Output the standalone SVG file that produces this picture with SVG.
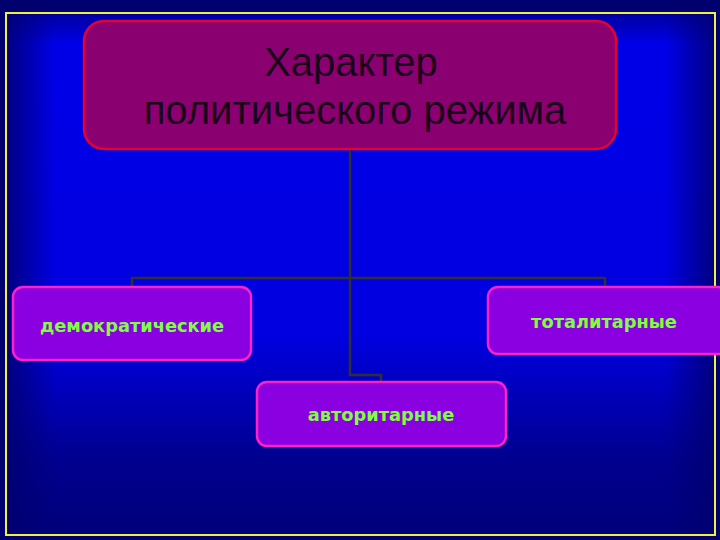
<svg xmlns="http://www.w3.org/2000/svg" width="720" height="540" viewBox="0 0 720 540">
<defs>
<linearGradient id="bgv" x1="0" y1="0" x2="0" y2="1">
<stop offset="0" stop-color="#0000a0"/>
<stop offset="0.06" stop-color="#0000e8"/>
<stop offset="0.62" stop-color="#0000e0"/>
<stop offset="0.85" stop-color="#000090"/>
<stop offset="1" stop-color="#00007a"/>
</linearGradient>
<linearGradient id="bgh" x1="0" y1="0" x2="1" y2="0">
<stop offset="0" stop-color="#000070" stop-opacity="0.85"/>
<stop offset="0.07" stop-color="#000070" stop-opacity="0"/>
<stop offset="0.93" stop-color="#000070" stop-opacity="0"/>
<stop offset="1" stop-color="#000070" stop-opacity="0.85"/>
</linearGradient>
<style>
.sub rect{fill:#8a00e0;stroke:#ff20c8;stroke-width:2.5}
.sub text{font-family:"DejaVu Sans","Noto Sans",sans-serif;font-size:17.8px;font-weight:bold;fill:#80ff40;text-anchor:middle}
.title{font-family:"Liberation Sans",Arial,sans-serif;font-size:40px;fill:#1a0018;text-anchor:middle}
.conn{fill:none;stroke:#303030;stroke-width:2.5}
</style>
</defs>
<rect x="0" y="0" width="720" height="540" fill="#00006e"/>
<rect x="6" y="13" width="709" height="522" fill="url(#bgv)"/>
<rect x="6" y="13" width="709" height="522" fill="url(#bgh)"/>
<rect x="6" y="13" width="709" height="522" fill="none" stroke="#f0f040" stroke-width="2"/>
<g id="connectors" class="conn">
<path d="M350,149 V375 H381 V383"/>
<path d="M132,287 V278 H605 V287"/>
</g>
<g id="root">
<rect x="84" y="21" width="532" height="128" rx="20" fill="#8a0070" stroke="#e80030" stroke-width="2.5"/>
<text class="title" x="351" y="76">Характер</text>
<text class="title" x="355" y="124">политического режима</text>
</g>
<g id="n-democratic" class="sub">
<rect x="13" y="287" width="238" height="73" rx="10"/>
<text x="132" y="332">демократические</text>
</g>
<g id="n-totalitarian" class="sub">
<rect x="488" y="287" width="240" height="67" rx="10"/>
<text x="604" y="328">тоталитарные</text>
</g>
<g id="n-authoritarian" class="sub">
<rect x="257" y="382" width="249" height="64" rx="10"/>
<text x="381" y="421">авторитарные</text>
</g>
</svg>
